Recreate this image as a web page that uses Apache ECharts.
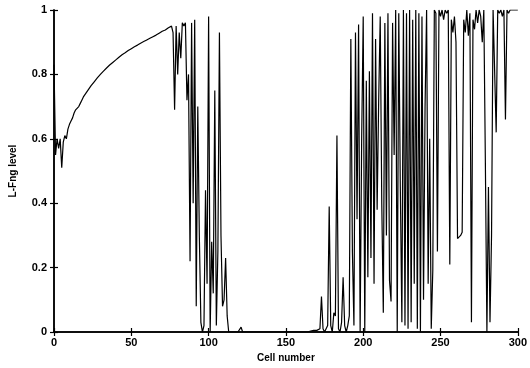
<!DOCTYPE html>
<html>
<head>
<meta charset="utf-8">
<script src="https://cdn.jsdelivr.net/npm/echarts@6/dist/echarts.min.js"></script>
<style>html,body{margin:0;padding:0;background:#fff}#c{width:530px;height:368px}</style>
</head>
<body>
<div id="c"></div>
<script>
// L-Fng level per cell (index = cell number 0..300)
var levels = [
0.83,0.55,0.60,0.57,0.60,0.51,0.59,0.61,0.60,0.63,
0.645,0.655,0.665,0.68,0.69,0.685,0.70,0.71,0.72,0.73,
0.737,0.744,0.751,0.758,0.765,0.771,0.777,0.783,0.789,0.795,
0.80,0.805,0.81,0.815,0.82,0.825,0.829,0.833,0.837,0.841,
0.845,0.849,0.853,0.857,0.861,0.864,0.867,0.871,0.874,0.877,
0.88,0.883,0.886,0.889,0.891,0.894,0.897,0.899,0.902,0.905,
0.907,0.91,0.912,0.915,0.917,0.92,0.922,0.925,0.928,0.931,
0.934,0.936,0.938,0.94,0.945,0.94,0.95,0.93,0.69,0.95,
0.80,0.93,0.85,0.96,0.95,0.96,0.72,0.80,0.22,0.96,
0.40,0.97,0.08,0.70,0.30,0.03,0.00,0.02,0.44,0.15,
0.98,0.00,0.28,0.12,0.75,0.02,0.25,0.93,0.30,0.08,
0.10,0.23,0.05,0.00,0,0,0,0,0,0,
0,0.015,0,0,0,0,0,0,0,0,
0,0,0,0,0,0,0,0,0,0,
0,0,0,0,0,0,0,0,0,0,
0,0,0,0,0,0,0,0,0,0,
0,0,0,0,0,0,0.003,0.004,0.005,0.006,
0.005,0.01,0.01,0.11,0.01,0,0,0.02,0.39,0.02,
0.0,0.06,0.05,0.61,0.01,0.0,0.03,0.17,0.02,0.0,
0.02,0.05,0.91,0.25,0.02,0.93,0.35,0.955,0.0,0.60,
0.98,0.0,0.78,0.17,0.81,0.23,0.99,0.15,0.91,0.38,
0.72,0.98,0.40,0.06,0.96,0.30,0.99,0.16,0.095,0.96,
0.55,1.0,0.0,0.99,0.45,0.03,1.0,0.02,0.99,0.01,
1.0,0.03,0.97,0.15,1.0,0.01,0.99,0.0,0.98,0.10,
0.70,1.0,0.15,0.60,0.01,0.19,1.0,0.99,0.25,1.0,
0.98,1.0,0.97,1.0,0.99,1.0,0.21,0.97,0.93,0.98,
0.90,0.29,0.295,0.30,0.31,0.97,0.93,1.0,0.92,0.99,
0.03,0.97,0.94,1.0,0.96,1.0,0.98,0.90,1.0,0.53,
0.0,0.45,0.03,0.30,1.0,1.0,0.62,1.0,0.99,1.0,
0.98,1.0,0.66,1.0,0.99,1.0,1.0,1.0,1.0,1.0,
1.0
];
var xTicks = [0, 50, 100, 150, 200, 250, 300];
var yTicks = [0, 0.2, 0.4, 0.6, 0.8, 1];
var xName = 'Cell number';
var yName = 'L-Fng level';

var seriesData = levels.map(function (v, i) { return [i, v]; });
var font = 'Liberation Sans, Arial, Helvetica, sans-serif';
var axisLine = { show: true, lineStyle: { color: '#000', width: 1.5 } };
var tick = { show: true, inside: true, length: 4, lineStyle: { color: '#000', width: 1.2 } };

var chart = echarts.init(document.getElementById('c'), null, { renderer: 'canvas' });
chart.setOption({
  animation: false,
  backgroundColor: '#fff',
  grid: { left: 51, right: 6, top: 10, bottom: 31, containLabel: false },
  xAxis: [{
    type: 'value', min: xTicks[0], max: xTicks[xTicks.length - 1], interval: 50,
    name: xName, nameLocation: 'middle', nameGap: 21,
    nameTextStyle: { color: '#000', fontSize: 10, fontWeight: 'bold', fontFamily: font },
    axisLine: axisLine, axisTick: tick, splitLine: { show: false },
    axisLabel: { color: '#000', fontSize: 11, fontWeight: 'bold', fontFamily: font, margin: 5 }
  }, {
    type: 'value', position: 'top', min: xTicks[0], max: xTicks[xTicks.length - 1], interval: 50,
    axisLine: axisLine, axisTick: tick, splitLine: { show: false }, axisLabel: { show: false }
  }],
  yAxis: [{
    type: 'value', min: yTicks[0], max: yTicks[yTicks.length - 1], interval: 0.2,
    name: yName, nameLocation: 'middle', nameGap: 36, nameRotate: 90,
    nameTextStyle: { color: '#000', fontSize: 10, fontWeight: 'bold', fontFamily: font },
    axisLine: axisLine, axisTick: tick, splitLine: { show: false },
    axisLabel: { color: '#000', fontSize: 11, fontWeight: 'bold', fontFamily: font, margin: 7 }
  }, {
    type: 'value', position: 'right', min: yTicks[0], max: yTicks[yTicks.length - 1], interval: 0.2,
    axisLine: axisLine, axisTick: tick, splitLine: { show: false }, axisLabel: { show: false }
  }],
  series: [{
    type: 'line', data: seriesData, showSymbol: false, symbol: 'none',
    lineStyle: { color: '#000', width: 1.2 }, clip: true
  }]
});
</script>
</body>
</html>
